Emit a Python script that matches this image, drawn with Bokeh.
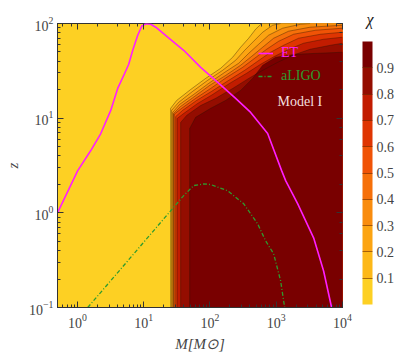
import numpy as np
from bokeh.plotting import figure
from bokeh.models import (LogAxis, ColorBar, LinearColorMapper, FixedTicker, Legend,
                          LegendItem, Label, Range1d, CustomJSTickFormatter, Title)
from bokeh.embed import file_html
from bokeh.resources import INLINE

FONT = "Liberation Serif"

# ---- chi contour boundaries (M [Msun], z) ----
levels = [0.1, 0.2, 0.3, 0.4, 0.5, 0.6, 0.7, 0.8, 0.9]
band_colors = ["#FDD023", "#FDB818", "#FCA412", "#F98C0E", "#F6700A",
               "#F05306", "#DF3502", "#C21C00", "#940D00", "#790000"]

c01_M = [25.5, 25.5, 31.5, 51.2, 86.1, 145, 220, 290, 384, 489, 602]
c01_z = [0.1, 12.7, 15.4, 20.1, 26.3, 33.6, 44.0, 56.1, 69.9, 87.0, 100]
c02_M = [26.4, 26.4, 33.7, 54.8, 92.3, 155, 244, 334, 456, 624, 883, 1165]
c02_z = [0.1, 12.1, 14.7, 19.2, 25.1, 32.0, 40.9, 52.1, 64.9, 80.9, 95.9, 100]
c03_M = [27.4, 27.4, 34.9, 56.8, 95.6, 167, 271, 384, 543, 768, 1249, 2333, 3240]
c03_z = [0.1, 11.5, 14.0, 17.8, 23.3, 30.5, 38.0, 48.4, 60.4, 75.2, 89.2, 98.3, 100]
c04_M = [28.2, 28.2, 36.1, 58.8, 99.0, 173, 290, 426, 624, 914, 1538, 3240, 1e4]
c04_z = [0.1, 11.2, 13.3, 17.0, 22.2, 28.3, 36.2, 45.0, 56.1, 69.9, 82.9, 91.4, 95.9]
c05_M = [28.8, 28.8, 37.4, 60.8, 102.5, 179, 311, 472, 716, 1087, 1830, 3929, 1e4]
c05_z = [0.1, 11.0, 12.7, 16.2, 20.6, 27.0, 34.4, 42.9, 53.4, 64.9, 77.0, 84.9, 89.2]
c06_M = [30.4, 30.4, 38.7, 63.0, 106, 192, 334, 524, 823, 1293, 2178, 4673, 1e4]
c06_z = [0.1, 10.4, 12.1, 15.4, 19.2, 25.1, 32.0, 39.9, 49.7, 58.9, 69.9, 77.0, 80.9]
c07_M = [32.0, 32.0, 40.1, 65.2, 110, 198, 358, 582, 946, 1538, 2590, 5187, 1e4]
c07_z = [0.1, 9.93, 11.2, 14.3, 17.8, 23.3, 29.8, 37.1, 45.0, 53.4, 61.9, 68.2, 71.6]
c08_M = [36.1, 36.1, 44.5, 72.4, 122, 220, 384, 624, 1050, 1768, 3240, 6614, 1e4]
c08_z = [0.1, 9.01, 10.7, 13.6, 16.2, 20.6, 26.3, 32.0, 38.9, 46.1, 53.4, 58.9, 61.9]
c09_M = [49.4, 49.4, 60.8, 102.5, 172.5, 290, 440, 624, 980, 1962, 1e4]
c09_z = [0.1, 7.78, 10.2, 12.7, 15.4, 19.6, 26.3, 36.2, 44.0, 47.3, 49.7]

contours_M = [c01_M, c02_M, c03_M, c04_M, c05_M, c06_M, c07_M, c08_M, c09_M]
contours_z = [c01_z, c02_z, c03_z, c04_z, c05_z, c06_z, c07_z, c08_z, c09_z]

# ---- detector horizons ----
et_M = [0.5, 0.666, 1.01, 1.59, 2.25, 3.18, 4.05, 5.17, 5.94, 6.83, 8.12, 9.33, 10.7,
        12.8, 15.2, 23.0, 40.1, 72.4, 131, 244, 411, 742, 1206, 1387, 2102, 3665, 5187, 6848]
et_z = [1.0, 1.52, 2.79, 4.55, 6.88, 12.07, 20.6, 29.8, 37.1, 52.1, 75.2, 93.6, 99.5,
        98.3, 91.4, 71.6, 52.1, 34.4, 23.9, 16.2, 11.5, 6.88, 2.79, 2.19, 1.25, 0.545, 0.243, 0.1]
ligo_M = [1.43, 25.5, 40.1, 56.8, 80.4, 102.5, 185, 322, 524, 692, 914, 1165, 1339]
ligo_z = [0.1, 1.05, 1.52, 1.94, 2.02, 1.99, 1.71, 1.25, 0.766, 0.506, 0.369, 0.191, 0.1]

cbar_ticks = [0.1, 0.2, 0.3, 0.4, 0.5, 0.6, 0.7, 0.8, 0.9]

p = figure(x_axis_type="log", y_axis_type="log",
           x_range=Range1d(0.5, 1e4), y_range=Range1d(0.1, 100),
           frame_width=285, frame_height=284,
           min_border_left=57, min_border_top=23, min_border_bottom=45, min_border_right=54,
           output_backend="svg", toolbar_location=None,
           background_fill_color=band_colors[0], border_fill_color="white")
p.grid.visible = False
p.outline_line_color = "#333333"

# filled bands
for k, (Ms, zs) in enumerate(zip(contours_M, contours_z)):
    if zs[-1] >= 100:
        ext_M, ext_z = [Ms[-1], 1e5], [1e3, 1e3]
    else:
        ext_M, ext_z = [1e5], [zs[-1]]
    px = list(Ms) + ext_M + [1e5, Ms[0]]
    py = list(zs) + ext_z + [0.01, 0.01]
    p.patch(px, py, fill_color=band_colors[k + 1], line_color=None)
# contour lines
for Ms, zs in zip(contours_M, contours_z):
    p.line(Ms, zs, line_color="#2a1200", line_alpha=0.55, line_width=0.7)

et_r = p.line(et_M, et_z, line_color="#FF1EFF", line_width=1.6)
li_r = p.line(ligo_M, ligo_z, line_color="#2E9B2E", line_width=1.3, line_dash="4 2 1 2")

# axes
for ax in (p.xaxis[0], p.yaxis[0]):
    ax.major_tick_in = 6
    ax.major_tick_out = 0
    ax.minor_tick_in = 3
    ax.minor_tick_out = 0
    ax.axis_line_color = "#333333"
    ax.major_tick_line_color = "#333333"
    ax.minor_tick_line_color = "#333333"
    ax.major_label_text_font = FONT
    ax.major_label_text_font_size = "14px"
    ax.axis_label_text_font = FONT
    ax.axis_label_text_font_size = "15px"
    ax.axis_label_text_font_style = "italic"
p.xaxis.axis_label = "M[M⊙]"
p.yaxis.axis_label = "z"
p.xaxis.major_label_standoff = 6
p.yaxis.major_label_standoff = 4
p.xaxis.axis_label_standoff = 5
p.yaxis.axis_label_standoff = 5

blank = CustomJSTickFormatter(code="return ''")
for place in ("above", "right"):
    ax = LogAxis(formatter=blank, major_tick_in=6, major_tick_out=0, minor_tick_in=3,
                 minor_tick_out=0, axis_line_color=None, major_tick_line_color="#333333",
                 minor_tick_line_color="#333333", major_label_standoff=0,
                 major_label_text_font_size="1px")
    p.add_layout(ax, place)

# colour-bar title (chi), drawn as the figure title pushed over the colour bar
p.title = Title(text="χ", align="right", offset=-31, standoff=-9, text_font=FONT,
                text_font_size="16px", text_font_style="italic", text_color="#222222")

# legend
leg_style = dict(background_fill_alpha=0, border_line_alpha=0, label_text_font=FONT,
                 label_text_font_size="14px", glyph_width=15, glyph_height=20,
                 label_height=20, padding=0, margin=0, label_standoff=8, spacing=0)
leg1 = Legend(items=[LegendItem(label="ET", renderers=[et_r])], location=(201, 244),
              label_text_color="#FF1EFF", **leg_style)
leg2 = Legend(items=[LegendItem(label="aLIGO", renderers=[li_r])], location=(201, 221),
              label_text_color="#2E9B2E", **leg_style)
p.add_layout(leg1)
p.add_layout(leg2)

p.add_layout(Label(x=220, y=206, x_units="screen", y_units="screen", text="Model I",
                   text_color="#F2DEDE", text_font=FONT, text_font_size="14px",
                   text_baseline="middle"))

mapper = LinearColorMapper(palette=band_colors, low=0, high=1)
cb = ColorBar(color_mapper=mapper, ticker=FixedTicker(ticks=cbar_ticks), width=10, height=263,
              location=(305, 3), padding=0, margin=0,
              major_label_text_font=FONT, major_label_text_font_size="14px", label_standoff=4,
              major_tick_in=10, major_tick_out=0, major_tick_line_color="#6b2a00",
              major_tick_line_alpha=0.6, minor_tick_line_color=None, bar_line_color=None,
              background_fill_alpha=0, border_line_color=None)
p.add_layout(cb)

open("out.html", "w").write(file_html(p, INLINE))
